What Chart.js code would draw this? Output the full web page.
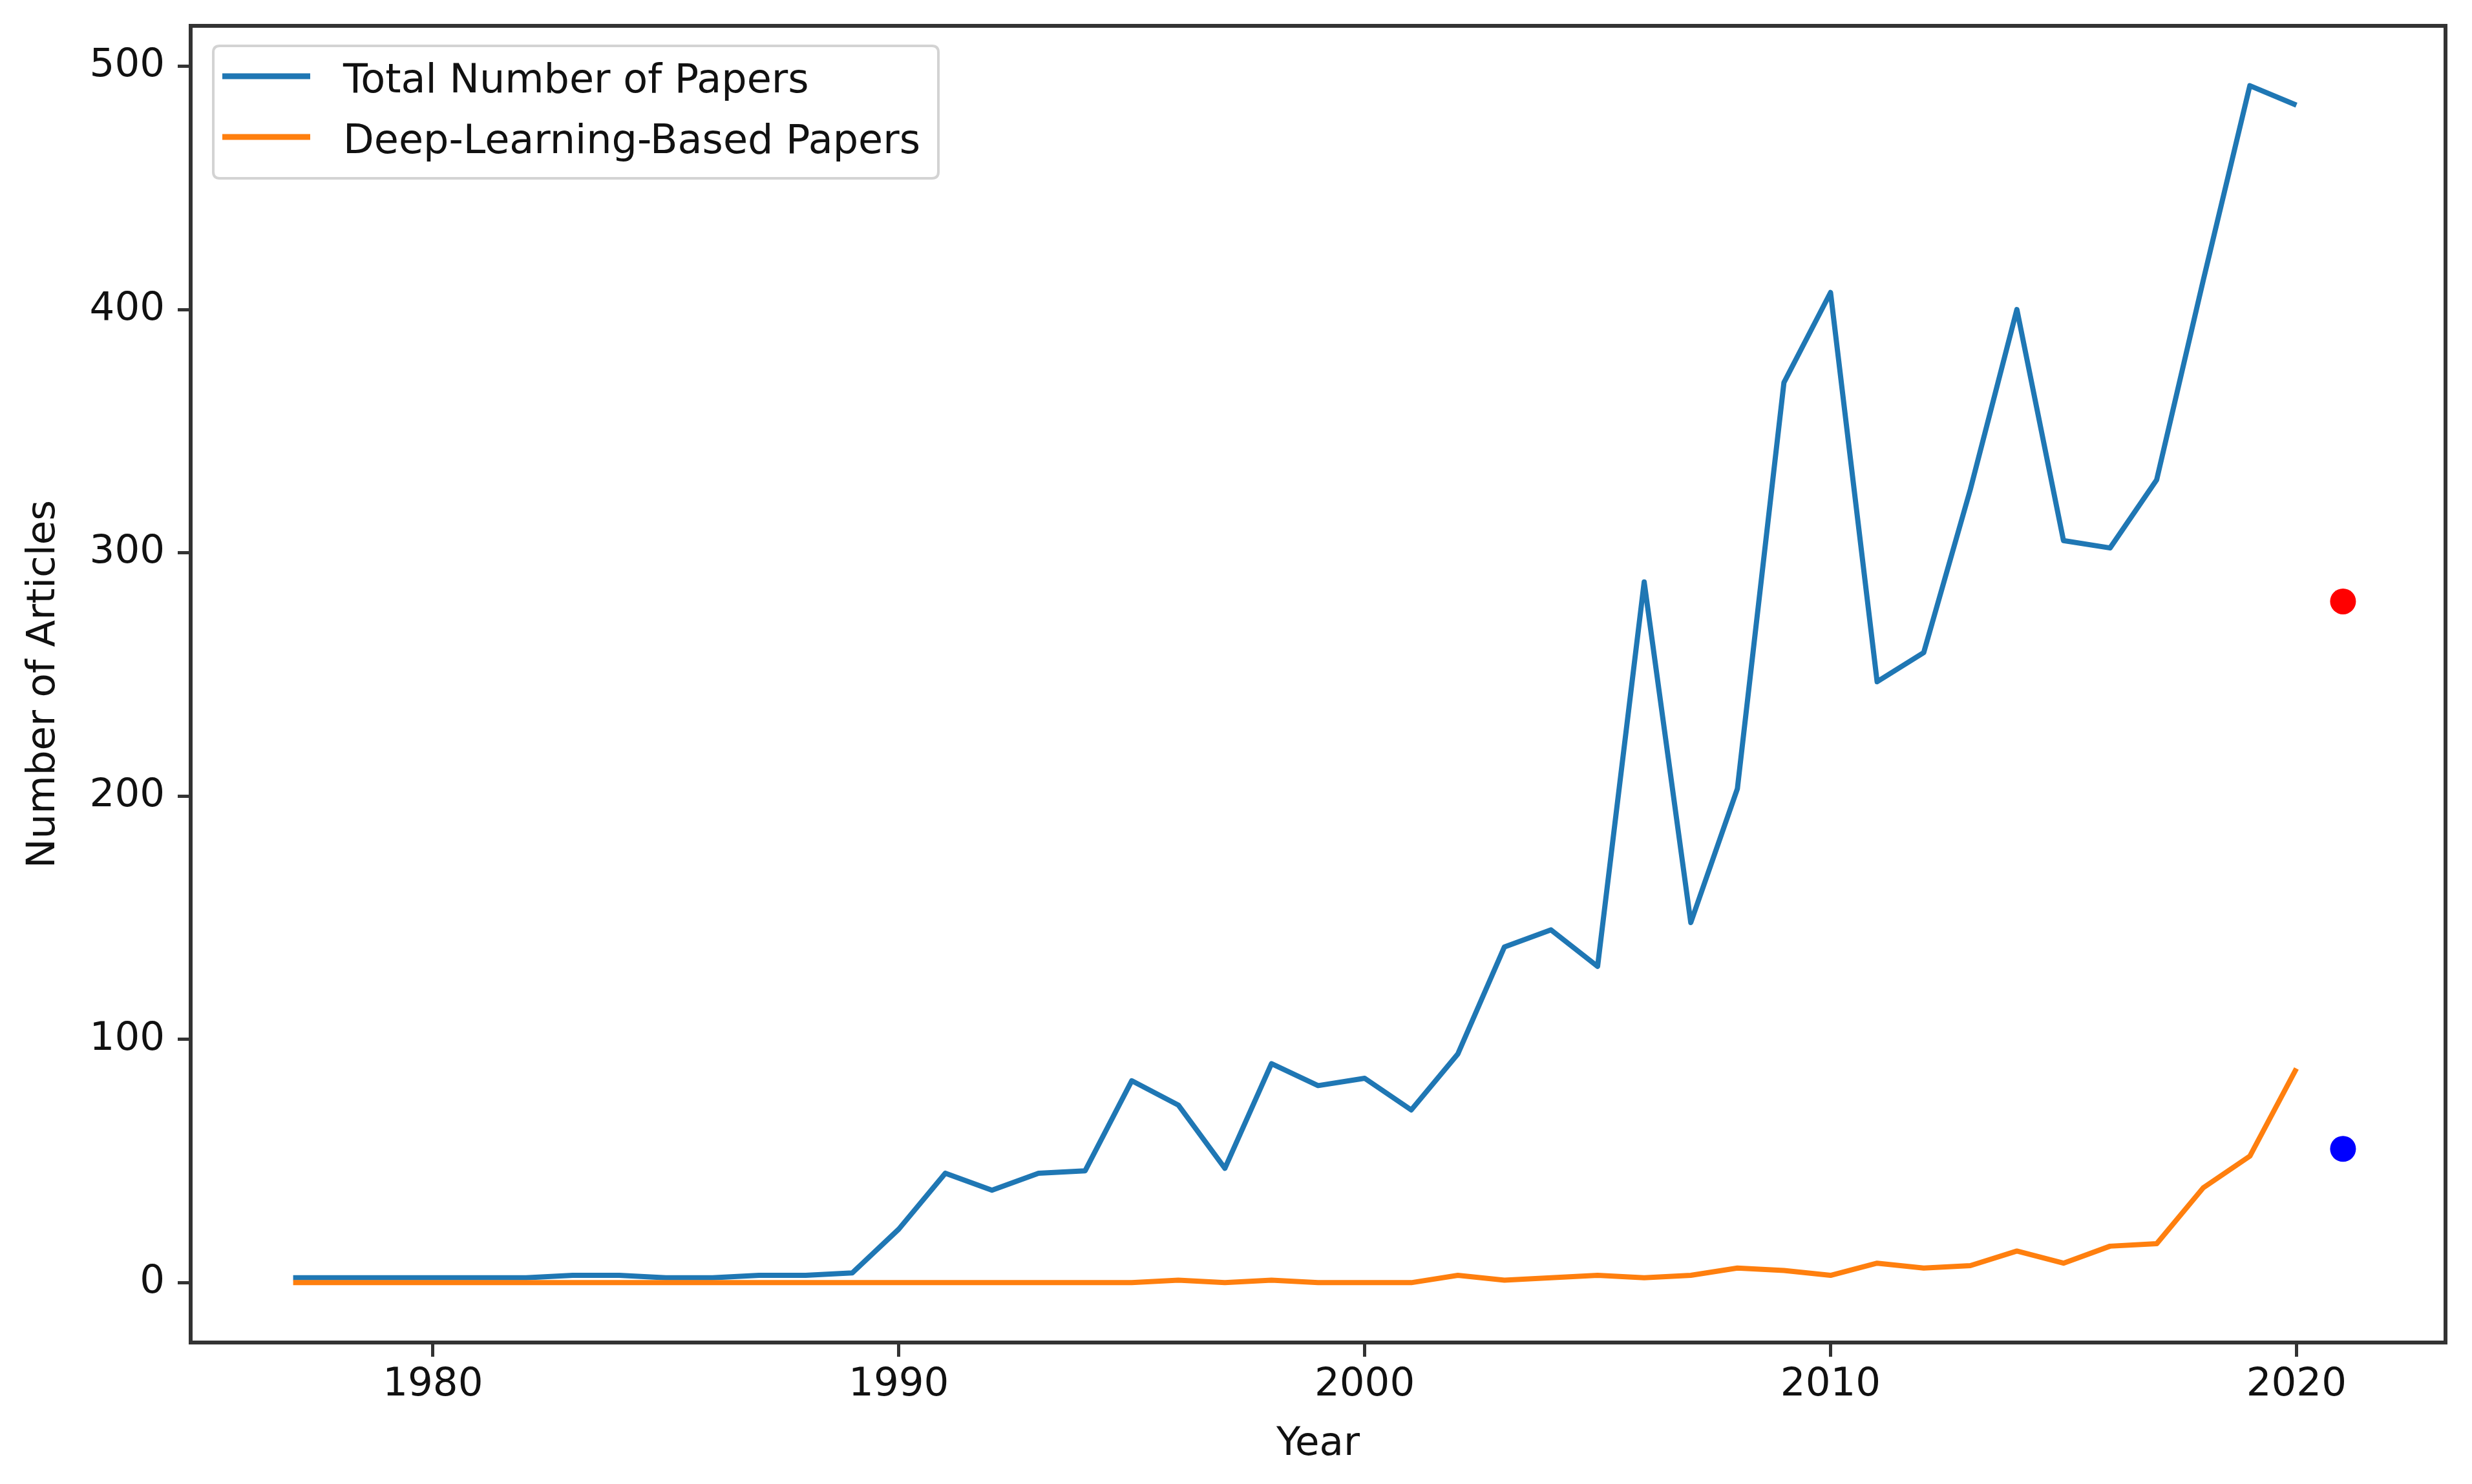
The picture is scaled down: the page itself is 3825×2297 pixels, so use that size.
<!DOCTYPE html>
<html>
<head>
<meta charset="utf-8">
<script src="https://cdn.jsdelivr.net/npm/chart.js@4.4.1/dist/chart.umd.min.js"></script>
<style>
  html, body { margin: 0; padding: 0; background: #ffffff; }
  canvas { display: block; }
</style>
</head>
<body>
<canvas id="c" width="3825" height="2297"></canvas>
<script>
// ---- Data ----
const years = [1977,1978,1979,1980,1981,1982,1983,1984,1985,1986,1987,1988,1989,1990,
  1991,1992,1993,1994,1995,1996,1997,1998,1999,2000,2001,2002,2003,2004,2005,2006,
  2007,2008,2009,2010,2011,2012,2013,2014,2015,2016,2017,2018,2019,2020];
const totalPapers = [2,2,2,2,2,2,3,3,2,2,3,3,4,22,
  45,38,45,46,83,73,47,90,81,84,71,94,138,145,130,288,
  148,203,370,407,247,259,326,400,305,302,330,412,492,484];
const dlPapers = [0,0,0,0,0,0,0,0,0,0,0,0,0,0,
  0,0,0,0,0,1,0,1,0,0,0,3,1,2,3,2,
  3,6,5,3,8,6,7,13,8,15,16,39,52,88];
const extraYear = 2021;
const extraTotal = 280;
const extraDL = 55;
const seriesLabels = ['Total Number of Papers', 'Deep-Learning-Based Papers'];
const xTicks = [1980, 1990, 2000, 2010, 2020];
const yTicks = [0, 100, 200, 300, 400, 500];
const xLabel = 'Year';
const yLabel = 'Number of Articles';

// ---- Styling ----
const FONT = '"DejaVu Sans", sans-serif';
const FS = 61;
const LEG_FS = 62;
const TXT = '#111111';
const SPINE = '#333333';
Chart.defaults.font.family = FONT;
Chart.defaults.font.size = FS;
Chart.defaults.color = TXT;

const toXY = (xs, ys) => xs.map((x, i) => ({ x: x, y: ys[i] }));

const spinesPlugin = {
  id: 'spines',
  afterDatasetsDraw(chart) {
    const a = chart.chartArea, ctx = chart.ctx;
    ctx.save();
    ctx.strokeStyle = SPINE;
    ctx.lineWidth = 6;
    ctx.strokeRect(a.left, a.top, a.right - a.left, a.bottom - a.top);
    ctx.restore();
  }
};

const legendPlugin = {
  id: 'mplLegend',
  afterDraw(chart) {
    const ctx = chart.ctx, a = chart.chartArea;
    const items = chart.data.datasets.filter(d => d.inLegend);
    const x0 = a.left + 35, y0 = a.top + 31, w = 1122, h = 205, r = 10;
    ctx.save();
    ctx.beginPath();
    ctx.moveTo(x0 + r, y0);
    ctx.lineTo(x0 + w - r, y0);
    ctx.quadraticCurveTo(x0 + w, y0, x0 + w, y0 + r);
    ctx.lineTo(x0 + w, y0 + h - r);
    ctx.quadraticCurveTo(x0 + w, y0 + h, x0 + w - r, y0 + h);
    ctx.lineTo(x0 + r, y0 + h);
    ctx.quadraticCurveTo(x0, y0 + h, x0, y0 + h - r);
    ctx.lineTo(x0, y0 + r);
    ctx.quadraticCurveTo(x0, y0, x0 + r, y0);
    ctx.closePath();
    ctx.fillStyle = 'rgba(255,255,255,0.85)';
    ctx.fill();
    ctx.strokeStyle = '#d3d3d3';
    ctx.lineWidth = 4;
    ctx.stroke();
    items.forEach((d, i) => {
      const cy = y0 + 47 + i * 94;
      ctx.beginPath();
      ctx.strokeStyle = d.borderColor;
      ctx.lineWidth = 9;
      ctx.lineCap = 'butt';
      ctx.moveTo(x0 + 14, cy);
      ctx.lineTo(x0 + 150, cy);
      ctx.stroke();
      ctx.fillStyle = TXT;
      ctx.font = LEG_FS + 'px ' + FONT;
      ctx.textBaseline = 'alphabetic';
      ctx.textAlign = 'left';
      ctx.fillText(d.label, x0 + 201, cy + 25);
    });
    ctx.restore();
  }
};

new Chart(document.getElementById('c'), {
  type: 'line',
  data: {
    datasets: [
      {
        label: seriesLabels[0], inLegend: true,
        data: toXY(years, totalPapers),
        borderColor: '#1f77b4', backgroundColor: '#1f77b4',
        borderWidth: 8, pointRadius: 0, tension: 0, fill: false,
        borderJoinStyle: 'round', order: 4
      },
      {
        label: seriesLabels[1], inLegend: true,
        data: toXY(years, dlPapers),
        borderColor: '#ff7f0e', backgroundColor: '#ff7f0e',
        borderWidth: 8, pointRadius: 0, tension: 0, fill: false,
        borderJoinStyle: 'round', order: 3
      },
      {
        label: 'extra total', inLegend: false, type: 'scatter',
        data: [{ x: extraYear, y: extraTotal }],
        borderColor: '#ff0000', backgroundColor: '#ff0000',
        pointRadius: 20, pointBorderWidth: 0, order: 2
      },
      {
        label: 'extra dl', inLegend: false, type: 'scatter',
        data: [{ x: extraYear, y: extraDL }],
        borderColor: '#0000ff', backgroundColor: '#0000ff',
        pointRadius: 20, pointBorderWidth: 0, order: 1
      }
    ]
  },
  options: {
    responsive: false,
    animation: false,
    devicePixelRatio: 1,
    layout: { padding: { top: 40, right: 41, left: 0, bottom: 0 } },
    plugins: {
      legend: { display: false },
      tooltip: { enabled: false }
    },
    scales: {
      x: {
        type: 'linear',
        min: 1974.8, max: 2023.2,
        afterBuildTicks: s => { s.ticks = xTicks.map(v => ({ value: v })); },
        afterFit: s => { s.height = 219; s.paddingLeft = 0; s.paddingRight = 0; },
        ticks: { callback: v => String(v), padding: 8, color: TXT, maxRotation: 0, autoSkip: false },
        grid: { display: true, drawOnChartArea: false, drawTicks: true, tickLength: 22, tickWidth: 5, tickColor: SPINE },
        border: { display: false },
        title: { display: true, text: xLabel, color: TXT, padding: { top: 0, bottom: 24 } }
      },
      y: {
        type: 'linear',
        min: -24.6, max: 516.6,
        afterBuildTicks: s => { s.ticks = yTicks.map(v => ({ value: v })); },
        afterFit: s => { s.width = 295; s.paddingTop = 0; s.paddingBottom = 0; },
        ticks: { callback: v => String(v), padding: 20, color: TXT, autoSkip: false },
        grid: { display: true, drawOnChartArea: false, drawTicks: true, tickLength: 20, tickWidth: 5, tickColor: SPINE },
        border: { display: false },
        title: { display: true, text: yLabel, color: TXT, padding: { top: 32, bottom: 0 } }
      }
    }
  },
  plugins: [spinesPlugin, legendPlugin]
});
</script>
</body>
</html>
